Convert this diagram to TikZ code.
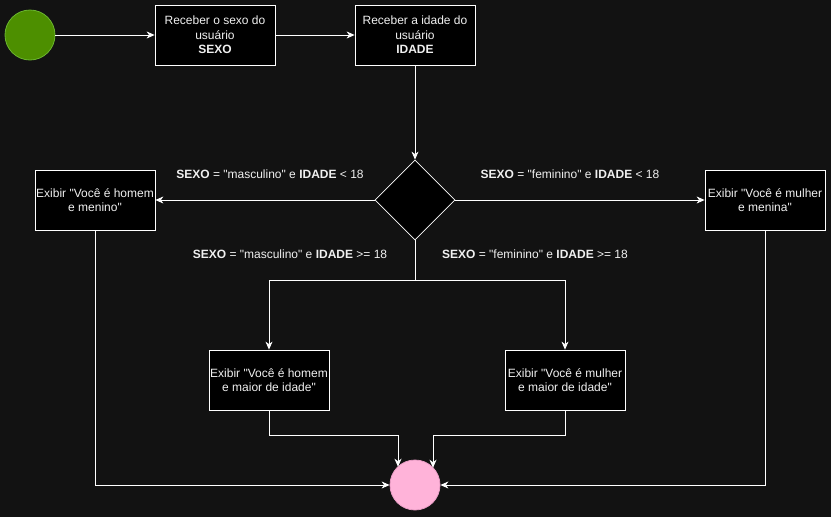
\documentclass[tikz,border=0pt]{standalone}
\usepackage{fontspec}
\setmainfont{Liberation Sans}[Ligatures=TeXOff]
\usetikzlibrary{arrows.meta,shapes.geometric,calc}
\definecolor{bg}{HTML}{121212}
\definecolor{txt}{HTML}{F0F0F0}
\definecolor{startfill}{HTML}{4D8F00}
\definecolor{startline}{HTML}{6AB52E}
\definecolor{endfill}{HTML}{FFB3D9}
\definecolor{endline}{HTML}{E89CC4}
\tikzset{
  box/.style={draw=white, fill=black, line width=0.8pt, minimum width=120pt, minimum height=60pt,
    inner sep=0pt, align=center, text=txt, font=\fontsize{12}{14.5}\selectfont},
  cond/.style={text=txt, font=\fontsize{12}{14}\selectfont, inner sep=0pt},
  conn/.style={draw=white, line width=0.8pt, -{Stealth[length=8pt,width=7pt,inset=2.5pt]}},
  wire/.style={draw=white, line width=0.8pt},
}
\begin{document}
\begin{tikzpicture}[x=1pt,y=-1pt]
\fill[bg] (0,0) rectangle (831,517);
\useasboundingbox (0,0) rectangle (831,517);
\node[circle, minimum size=50pt, inner sep=0pt, fill=startfill, draw=startline, line width=0.8pt] (start) at (30,35) {};
\node[box] (sexo) at (215,35) {Receber o sexo do\\usuário\\\textbf{SEXO}};
\node[box] (idade) at (415,35) {Receber a idade do\\usuário\\\textbf{IDADE}};
\node[diamond, draw=white, fill=black, line width=0.8pt, minimum width=80pt, minimum height=80pt, inner sep=0pt, aspect=1] (dec) at (415,200) {};
\node[box] (hm) at (95,200) {Exibir "Você é homem\\e menino"};
\node[box] (mm) at (765,200) {Exibir "Você é mulher\\e menina"};
\node[box] (hmaior) at (269,380) {Exibir "Você é homem\\e maior de idade"};
\node[box] (mmaior) at (565,380) {Exibir "Você é mulher\\e maior de idade"};
\node[circle, minimum size=50pt, inner sep=0pt, fill=endfill, draw=endline, line width=0.8pt] (fim) at (415,485) {};
\node[cond] (l1) at (270,174) {\textbf{SEXO} = "masculino" e \textbf{IDADE} < 18};
\node[cond] (l2) at (570,174) {\textbf{SEXO} = "feminino" e \textbf{IDADE} < 18};
\node[cond] (l3) at (290,254) {\textbf{SEXO} = "masculino" e \textbf{IDADE} >= 18};
\node[cond] (l4) at (535,254) {\textbf{SEXO} = "feminino" e \textbf{IDADE} >= 18};
\coordinate (split) at (415,280);
\coordinate (inL) at ($(fim.center)+(-17,-18.3)$);
\coordinate (inR) at ($(fim.center)+(18,-17.3)$);
\draw[conn] (start) -- (sexo);
\draw[conn] (sexo) -- (idade);
\draw[conn] (idade) -- (dec);
\draw[conn] (dec.west) -- (hm);
\draw[conn] (dec.east) -- (mm);
\draw[wire] (dec.south) -- (split);
\draw[conn] (split) -| (hmaior.north);
\draw[conn] (split) -| (mmaior.north);
\draw[conn] (hm.south) |- (fim.west);
\draw[conn] (mm.south) |- (fim.east);
\draw[conn] (hmaior.south) -- ++(0,25) -| (inL);
\draw[conn] (mmaior.south) -- ++(0,25) -| (inR);
\end{tikzpicture}
\end{document}
